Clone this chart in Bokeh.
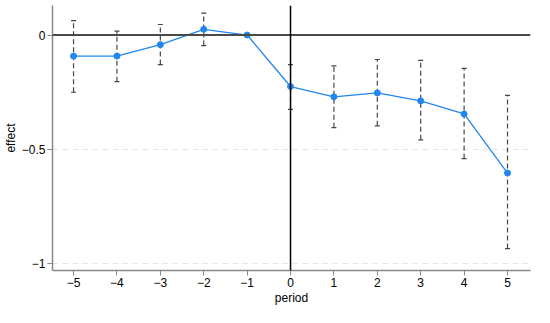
from bokeh.plotting import figure
from bokeh.models import ColumnDataSource, FixedTicker, Span, Range1d
from bokeh.embed import file_html
from bokeh.resources import INLINE

period = [-5, -4, -3, -2, -1, 0, 1, 2, 3, 4, 5]
effect = [-0.092, -0.092, -0.042, 0.025, 0.0, -0.225, -0.27, -0.253, -0.288, -0.345, -0.603]
ci_upper = [0.063, 0.017, 0.046, 0.096, 0.0, -0.129, -0.135, -0.107, -0.111, -0.146, -0.264]
ci_lower = [-0.25, -0.204, -0.129, -0.046, 0.0, -0.325, -0.405, -0.397, -0.458, -0.54, -0.933]
y_ticks = [0, -0.5, -1]
y_tick_labels = ["0", "\u22120.5", "\u22121"]
x_ticks = period
x_tick_labels = ["\u22125", "\u22124", "\u22123", "\u22122", "\u22121", "0", "1", "2", "3", "4", "5"]

src = ColumnDataSource(dict(period=period, effect=effect, lo=ci_lower, hi=ci_upper))

p = figure(width=534, height=307, output_backend="svg", toolbar_location=None,
           x_range=Range1d(-5.485, 5.53), y_range=Range1d(-1.029, 0.129),
           min_border_left=30, min_border_right=4, min_border_top=5, min_border_bottom=30)
p.outline_line_color = None
p.background_fill_color = "white"

FONT = "Liberation Sans"

p.xaxis.ticker = FixedTicker(ticks=x_ticks)
p.xaxis.major_label_overrides = {t: l for t, l in zip(x_ticks, x_tick_labels)}
p.yaxis.ticker = FixedTicker(ticks=y_ticks)
p.yaxis.major_label_overrides = {t: l for t, l in zip(y_ticks, y_tick_labels)}
p.xaxis.axis_label = "period"
p.yaxis.axis_label = "effect"
for ax in (p.xaxis[0], p.yaxis[0]):
    ax.axis_line_color = "#888888"
    ax.axis_line_width = 1.5
    ax.major_tick_line_color = "#888888"
    ax.major_tick_out = 5
    ax.major_tick_in = 0
    ax.minor_tick_line_color = None
    ax.major_label_text_font = FONT
    ax.major_label_text_font_size = "12px"
    ax.major_label_text_color = "black"
    ax.axis_label_text_font = FONT
    ax.axis_label_text_font_size = "12px"
    ax.axis_label_text_font_style = "normal"
    ax.axis_label_text_color = "black"
    ax.major_label_standoff = 2
    ax.axis_label_standoff = 1
p.yaxis.major_label_orientation = "horizontal"

p.xgrid.grid_line_color = None
p.ygrid.grid_line_color = "#e6e6e6"
p.ygrid.grid_line_dash = "6 4"
p.ygrid.grid_line_width = 1

p.add_layout(Span(location=0, dimension="width", line_color="#4a4a4a", line_width=2))
p.add_layout(Span(location=0, dimension="height", line_color="black", line_width=1.5))

p.segment(x0="period", y0="lo", x1="period", y1="hi", source=src,
          line_color="#444444", line_width=1.2, line_dash="5 3")
p.scatter(x="period", y="hi", source=src, marker="dash", size=5, line_color="#444444", line_width=1.2)
p.scatter(x="period", y="lo", source=src, marker="dash", size=5, line_color="#444444", line_width=1.2)

p.line(x="period", y="effect", source=src, line_color="#2186ee", line_width=1.3)
p.scatter(x="period", y="effect", source=src, size=6, fill_color="#2186ee", line_color="#2186ee")

open("out.html", "w").write(file_html(p, INLINE))
